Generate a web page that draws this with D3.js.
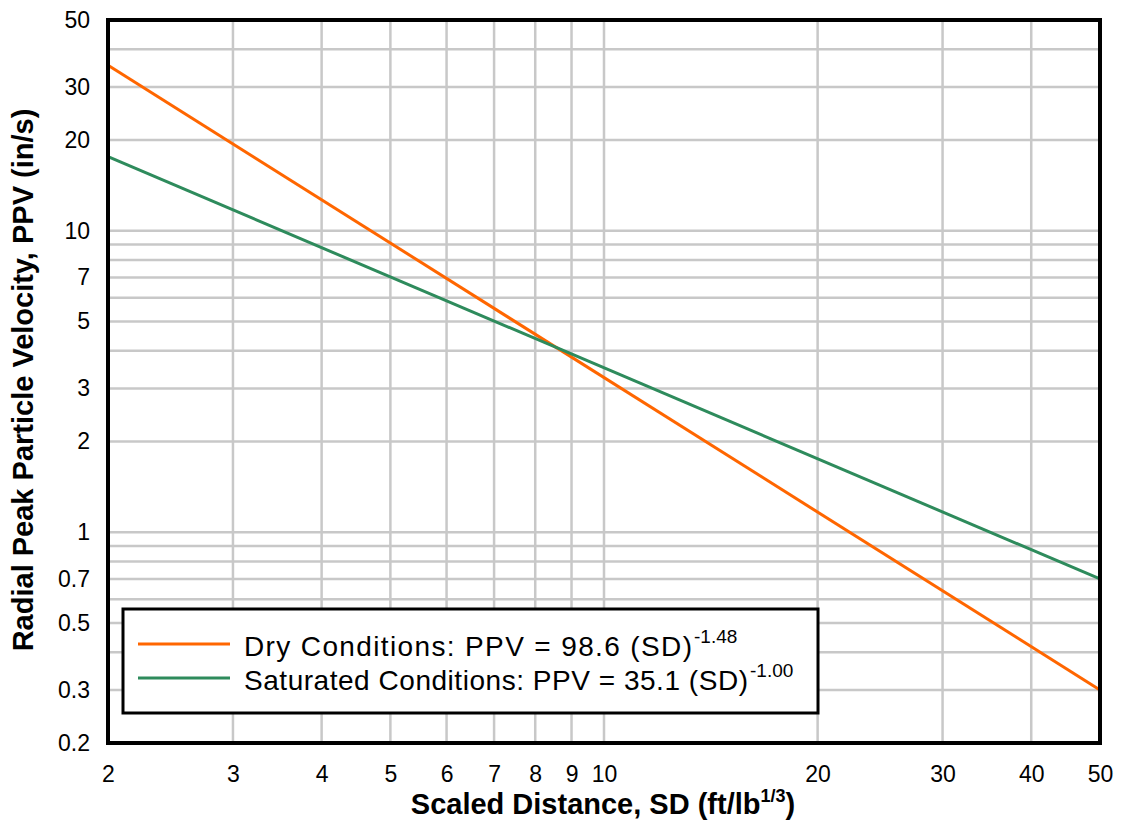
<!DOCTYPE html>
<html>
<head>
<meta charset="utf-8">
<script src="https://cdn.jsdelivr.net/npm/d3@7"></script>
<style>
  body { margin: 0; background: #fff; }
  svg { display: block; font-family: "Liberation Sans", Arial, sans-serif; }
</style>
</head>
<body>
<svg id="chart" width="1123" height="822"></svg>
<script>
// Scaled distance range and attenuation line endpoints
const sdEnds = [2, 50];
const dryPPV = [35.4, 0.30];
const satPPV = [17.6, 0.70];

const seriesNames = ["Dry Conditions", "Saturated Conditions"];
const seriesCoef = ["98.6", "35.1"];
const seriesExp = ["-1.48", "-1.00"];
const seriesColors = ["#ff6600", "#2e8b5c"];

// Axis ticks
const xTickLabels = [2, 3, 4, 5, 6, 7, 8, 9, 10, 20, 30, 40, 50];
const xGrid = [3, 4, 5, 6, 7, 8, 9, 10, 20, 30, 40];
const yTickLabels = [0.2, 0.3, 0.5, 0.7, 1, 2, 3, 5, 7, 10, 20, 30, 50];
const yGrid = [0.3, 0.4, 0.5, 0.6, 0.7, 0.8, 0.9, 1, 2, 3, 4, 5, 6, 7, 8, 9, 10, 20, 30, 40];

const FONT = "Liberation Sans, Arial, sans-serif";
const svg = d3.select("#chart");
const L = 108, R = 1100, T = 20, B = 743;

const x = d3.scaleLog().domain([2, 50]).range([L, R]);
const y = d3.scaleLog().domain([0.2, 50]).range([B, T]);

// Grid
const grid = svg.append("g").attr("stroke", "#c8c8c8").attr("stroke-width", 2.5);
grid.selectAll(".gx").data(xGrid).join("line")
  .attr("x1", d => x(d)).attr("x2", d => x(d)).attr("y1", T).attr("y2", B);
grid.selectAll(".gy").data(yGrid).join("line")
  .attr("y1", d => y(d)).attr("y2", d => y(d)).attr("x1", L).attr("x2", R);

// Axes (labels only, no tick marks)
const xAxis = d3.axisBottom(x).tickValues(xTickLabels).tickFormat(d3.format("d")).tickSize(0).tickPadding(23);
const gx = svg.append("g").attr("transform", `translate(0,${B})`).call(xAxis);
gx.select(".domain").remove();
gx.selectAll("text").attr("font-size", 23).attr("fill", "#000").attr("font-family", FONT);

const yAxis = d3.axisLeft(y).tickValues(yTickLabels).tickFormat(d => String(d)).tickSize(0).tickPadding(18);
const gy = svg.append("g").attr("transform", `translate(${L},0)`).call(yAxis);
gy.select(".domain").remove();
gy.selectAll("text").attr("font-size", 23).attr("fill", "#000").attr("font-family", FONT);

// Lines
const line = d3.line().x(d => x(d[0])).y(d => y(d[1]));
const series = [dryPPV, satPPV];
series.forEach((vals, i) => {
  svg.append("path")
    .datum(sdEnds.map((s, j) => [s, vals[j]]))
    .attr("d", line)
    .attr("fill", "none")
    .attr("stroke", seriesColors[i])
    .attr("stroke-width", 3);
});

// Plot frame
svg.append("rect").attr("x", L).attr("y", T).attr("width", R - L).attr("height", B - T)
  .attr("fill", "none").attr("stroke", "#000").attr("stroke-width", 4);

// Legend
const lg = svg.append("g");
lg.append("rect").attr("x", 123).attr("y", 609).attr("width", 695).attr("height", 104)
  .attr("fill", "#fff").attr("stroke", "#000").attr("stroke-width", 3);
const legendTextWidths = [448, 504];
seriesNames.forEach((name, i) => {
  const yy = 644 + i * 34;
  lg.append("line").attr("x1", 138).attr("x2", 230).attr("y1", yy).attr("y2", yy)
    .attr("stroke", seriesColors[i]).attr("stroke-width", 3);
  lg.append("text").attr("x", 244).attr("y", yy + 12).attr("font-size", 28).attr("fill", "#000")
    .attr("textLength", legendTextWidths[i]).attr("lengthAdjust", "spacing")
    .text(`${name}: PPV = ${seriesCoef[i]} (SD)`);
  lg.append("text").attr("x", 244 + legendTextWidths[i] + 2).attr("y", yy - 1)
    .attr("font-size", 19).attr("fill", "#000").text(seriesExp[i]);
});

// Axis titles
const xt = svg.append("text").attr("x", 603).attr("y", 814).attr("text-anchor", "middle")
  .attr("font-size", 29).attr("font-weight", "bold").attr("fill", "#000");
xt.append("tspan").text("Scaled Distance, SD (ft/lb");
xt.append("tspan").attr("dy", -12).attr("font-size", 18).text("1/3");
xt.append("tspan").attr("dy", 12).text(")");

svg.append("text").attr("transform", "translate(33,380) rotate(-90)").attr("text-anchor", "middle")
  .attr("font-size", 29).attr("font-weight", "bold").attr("fill", "#000")
  .text("Radial Peak Particle Velocity, PPV (in/s)");
</script>
</body>
</html>
